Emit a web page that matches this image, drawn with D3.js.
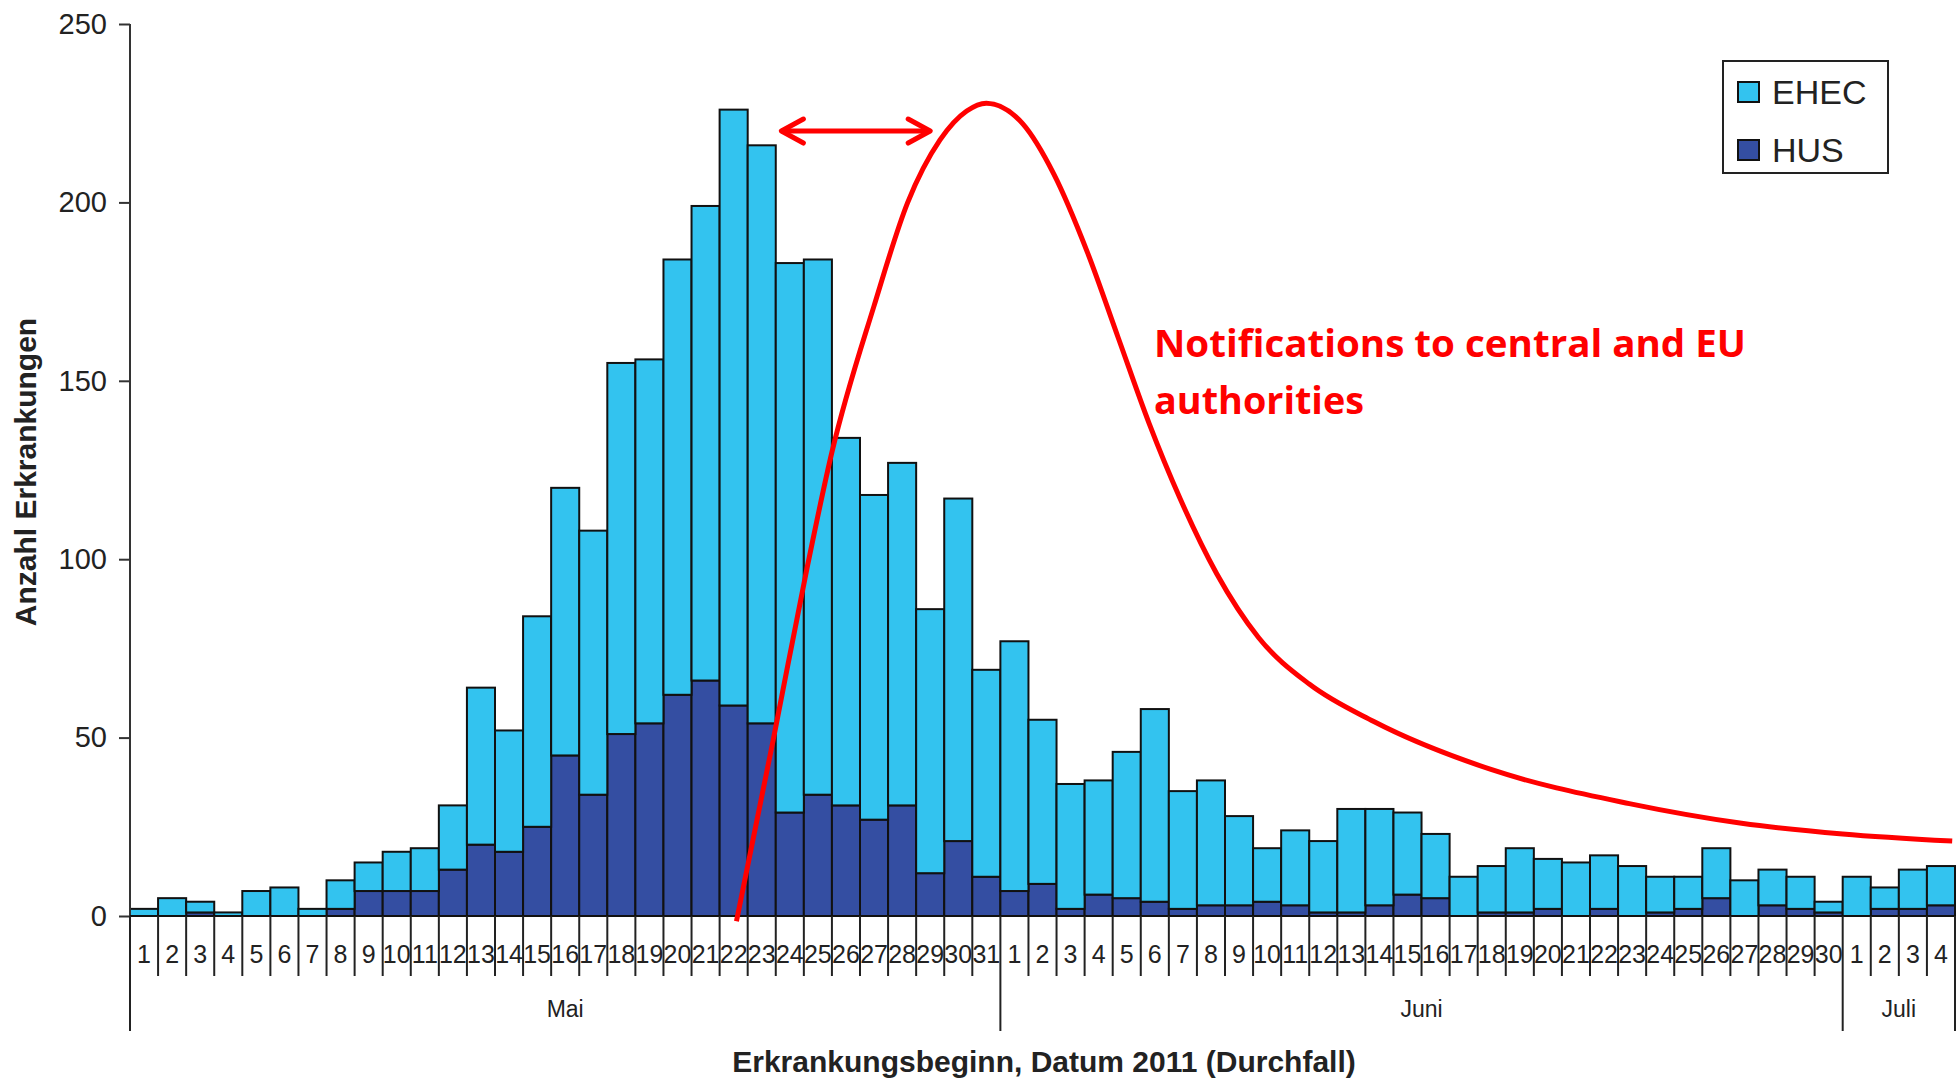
<!DOCTYPE html>
<html lang="de">
<head>
<meta charset="utf-8">
<script src="https://d3js.org/d3.v7.min.js"></script>
<style>
body { margin:0; background:#fff; }
svg { display:block; }
text { font-family: "Liberation Sans", Arial, sans-serif; fill:#222; }
rect.bar { stroke:#111; stroke-width:2; }
.red { stroke:#ff0000; fill:none; stroke-width:5; }
text.note { font-family: "Open Sans", "Noto Sans", sans-serif; font-weight:bold; fill:#ff0000; font-size:38px; }
</style>
</head>
<body>
<svg id="chart"></svg>
<script>
// daily cases, 1 May - 4 July 2011
var days = [1,2,3,4,5,6,7,8,9,10,11,12,13,14,15,16,17,18,19,20,21,22,23,24,25,26,27,28,29,30,31,
            1,2,3,4,5,6,7,8,9,10,11,12,13,14,15,16,17,18,19,20,21,22,23,24,25,26,27,28,29,30,
            1,2,3,4];
var hus  = [0,0,1,0,0,0,0,2,7,7,7,13,20,18,25,45,34,51,54,62,66,59,54,29,34,31,27,31,12,21,11,
            7,9,2,6,5,4,2,3,3,4,3,1,1,3,6,5,0,1,1,2,0,2,0,1,2,5,0,3,2,1,
            0,2,2,3];
var ehec = [2,5,3,1,7,8,2,8,8,11,12,18,44,34,59,75,74,104,102,122,133,167,162,154,150,103,91,96,74,96,58,
            70,46,35,32,41,54,33,35,25,15,21,20,29,27,23,18,11,13,18,14,15,15,14,10,9,14,10,10,9,3,
            11,6,11,11];
var months = ['Mai','Juni','Juli'];
var monthStart = [0,31,61,65];   // day index where each month starts (last = end)
var yTicks = [0,50,100,150,200,250];
var series = ['hus','ehec'];
var colors = {ehec:'#33c3ef', hus:'#344ea2'};
var legendItems = [{key:'ehec', label:'EHEC'}, {key:'hus', label:'HUS'}];

// red annotation curve (day index, cases) and the double arrow
var notifCurve = [[21.6,-1.5],[22.9,49],[24.1,97],[25.0,130],[26.5,171],[27.7,200],[28.85,217.5],
                  [29.8,225.6],[30.5,227.8],[31.8,222],[32.9,208],[34.1,186],[35.2,162],[36.3,138],
                  [37.4,117],[38.7,96],[40.2,78],[42.0,65],[44.3,54.5],[48.5,41],[53.4,31.5],
                  [57.4,26],[61,23],[64.9,21]];
var arrowSpan = [23.2, 28.5], arrowLevel = 220;

var W = 1957, H = 1082, plotLeft = 130, plotRight = 1955, plotBase = 916, plotTop = 24;

function doChart(){
	var svg = d3.select('#chart').attr('width', W).attr('height', H);

	var x = d3.scaleBand().domain(d3.range(days.length)).range([plotLeft, plotRight]).padding(0);
	var xl = d3.scaleLinear().domain([0, days.length]).range([plotLeft, plotRight]);
	var y = d3.scaleLinear().domain([0, 250]).range([plotBase, plotTop]);

	var rows = days.map(function(d,i){ return {i:i, hus:hus[i], ehec:ehec[i]}; });
	var stack = d3.stack().keys(series)(rows);

	svg.append('g').selectAll('g')
		.data(stack)
		.enter().append('g')
		.attr('fill', function(s){ return colors[s.key]; })
		.selectAll('rect')
		.data(function(s){ return s; })
		.enter().append('rect')
		.attr('class','bar')
		.attr('x', function(d){ return x(d.data.i); })
		.attr('width', x.bandwidth())
		.attr('y', function(d){ return y(d[1]); })
		.attr('height', function(d){ return y(d[0]) - y(d[1]); });

	// y axis
	var ya = svg.append('g').attr('transform','translate(' + plotLeft + ',0)')
		.call(d3.axisLeft(y).tickValues(yTicks).tickSize(11).tickPadding(12));
	ya.select('.domain').remove();
	ya.selectAll('line').attr('stroke','#333').attr('stroke-width',2);
	ya.selectAll('text').style('font-size','29px').attr('fill','#222');
	svg.append('line').attr('x1',plotLeft).attr('x2',plotLeft).attr('y1',y(250)).attr('y2',1031)
		.attr('stroke','#333').attr('stroke-width',2);

	// x axis: day labels with separators
	svg.append('line').attr('x1',plotLeft).attr('x2',plotRight).attr('y1',plotBase).attr('y2',plotBase)
		.attr('stroke','#111').attr('stroke-width',2);
	svg.append('g').selectAll('line')
		.data(d3.range(days.length + 1))
		.enter().append('line')
		.attr('x1', function(d){ return xl(d); }).attr('x2', function(d){ return xl(d); })
		.attr('y1', plotBase)
		.attr('y2', function(d){ return monthStart.indexOf(d) >= 0 ? 1031 : 976; })
		.attr('stroke','#222').attr('stroke-width',2);
	svg.append('g').selectAll('text')
		.data(days)
		.enter().append('text')
		.attr('x', function(d,i){ return x(i) + x.bandwidth()/2; })
		.attr('y', 963)
		.attr('text-anchor','middle')
		.style('font-size','25px')
		.text(function(d){ return d; });
	svg.append('g').selectAll('text')
		.data(months)
		.enter().append('text')
		.attr('x', function(d,i){ return (xl(monthStart[i]) + xl(monthStart[i+1]))/2; })
		.attr('y', 1017)
		.attr('text-anchor','middle')
		.style('font-size','23px')
		.text(function(d){ return d; });

	// axis titles
	svg.append('text').attr('x',1044).attr('y',1072).attr('text-anchor','middle')
		.style('font-size','30px').style('font-weight','bold')
		.text('Erkrankungsbeginn, Datum 2011 (Durchfall)');
	svg.append('text').attr('transform','translate(36,472) rotate(-90)').attr('text-anchor','middle')
		.style('font-size','30px').style('font-weight','bold')
		.text('Anzahl Erkrankungen');

	// legend
	var lg = svg.append('g');
	lg.append('rect').attr('x',1723).attr('y',61).attr('width',165).attr('height',112)
		.attr('fill','#fff').attr('stroke','#222').attr('stroke-width',2);
	lg.selectAll('g.item')
		.data(legendItems)
		.enter().append('g').attr('class','item')
		.each(function(d,i){
			var g = d3.select(this), cy = 92 + i*58;
			g.append('rect').attr('x',1738).attr('y',cy-10).attr('width',21).attr('height',20)
				.attr('fill',colors[d.key]).attr('stroke','#111').attr('stroke-width',2);
			g.append('text').attr('x',1772).attr('y',cy+12).style('font-size','34px').text(d.label);
		});

	// red annotation
	svg.append('path').attr('class','red')
		.attr('d', d3.line().curve(d3.curveMonotoneX)
			.x(function(d){ return xl(d[0]); })
			.y(function(d){ return y(d[1]); })(notifCurve));

	var ax1 = xl(arrowSpan[0]), ax2 = xl(arrowSpan[1]), ay = y(arrowLevel);
	svg.append('line').attr('class','red').attr('x1',ax1).attr('x2',ax2).attr('y1',ay).attr('y2',ay);
	svg.append('path').attr('class','red').attr('stroke-linecap','round').attr('stroke-linejoin','round')
		.attr('d', 'M' + (ax1+22) + ',' + (ay-12) + 'L' + ax1 + ',' + ay + 'L' + (ax1+22) + ',' + (ay+12));
	svg.append('path').attr('class','red').attr('stroke-linecap','round').attr('stroke-linejoin','round')
		.attr('d', 'M' + (ax2-22) + ',' + (ay-12) + 'L' + ax2 + ',' + ay + 'L' + (ax2-22) + ',' + (ay+12));

	svg.append('text').attr('class','note').attr('x',1154).attr('y',357)
		.attr('textLength',592).attr('lengthAdjust','spacingAndGlyphs')
		.text('Notifications to central and EU');
	svg.append('text').attr('class','note').attr('x',1154).attr('y',414)
		.attr('textLength',210).attr('lengthAdjust','spacingAndGlyphs')
		.text('authorities');
}
doChart();
</script>
</body>
</html>
